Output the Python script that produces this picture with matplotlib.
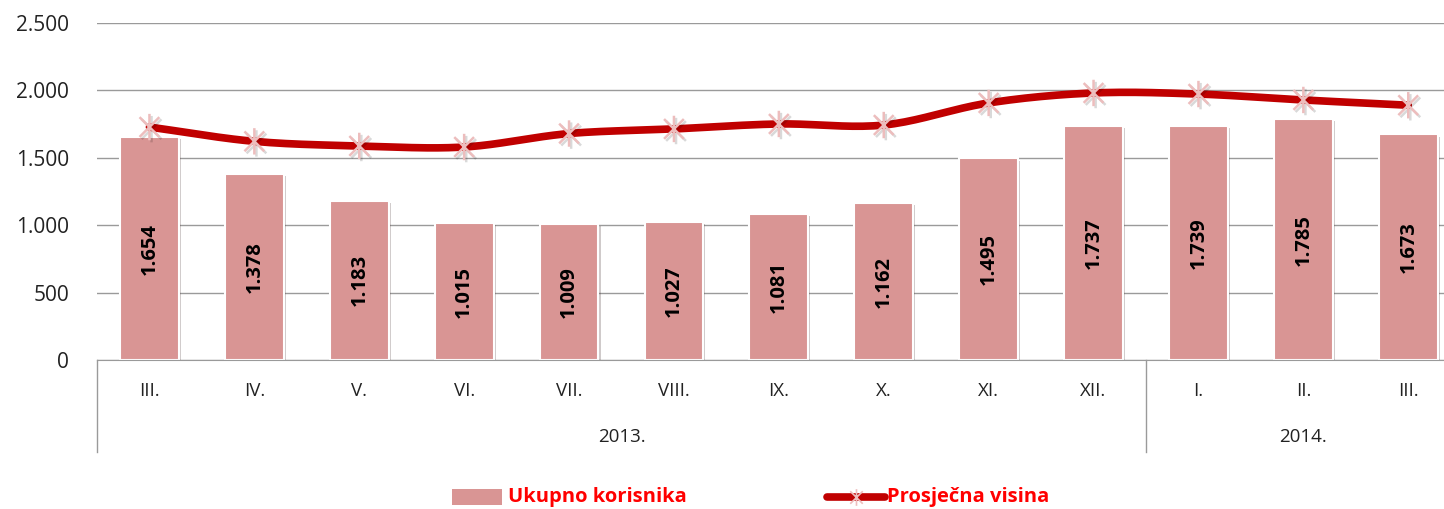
import numpy as np
import matplotlib
matplotlib.use("Agg")
import matplotlib.pyplot as plt
from matplotlib.ticker import FuncFormatter
from matplotlib.path import Path
import matplotlib.patheffects as pe

months = ["III.", "IV.", "V.", "VI.", "VII.", "VIII.", "IX.", "X.", "XI.", "XII.", "I.", "II.", "III."]
years = ["2013.", "2014."]
year_sizes = [10, 3]
korisnika = [1654, 1378, 1183, 1015, 1009, 1027, 1081, 1162, 1495, 1737, 1739, 1785, 1673]
visina = [1728, 1622, 1588, 1580, 1680, 1714, 1751, 1743, 1907, 1981, 1973, 1929, 1890]
bar_label = "Ukupno korisnika"
line_label = "Prosječna visina"

FONT = ["Open Sans", "DejaVu Sans"]
plt.rcParams["font.family"] = FONT

W, H = 1444, 509
fig = plt.figure(figsize=(W / 100, H / 100), dpi=100)
# axes: left at x=97, zero line at y=360, top at y=23; right edge runs past the canvas
x0, x1 = 97, 97 + 104.9 * 13
ax = fig.add_axes([x0 / W, (H - 360) / H, (x1 - x0) / W, (360 - 23) / H])

x = np.arange(len(months))
ax.set_xlim(-0.5, len(months) - 0.5)
ax.set_ylim(0, 2500)

ax.yaxis.grid(True, color="#9a9a9a", linewidth=1)
ax.set_axisbelow(True)
for s in ["top", "right", "left"]:
    ax.spines[s].set_visible(False)
ax.spines["bottom"].set_color("#9a9a9a")
ax.set_yticks(np.arange(0, 2501, 500))
ax.yaxis.set_major_formatter(FuncFormatter(lambda v, p: f"{int(v):,}".replace(",", ".")))
ax.tick_params(axis="y", length=0, pad=20, labelsize=15, labelcolor="#222222")
ax.set_xticks([])

shadow = [pe.SimplePatchShadow(offset=(1.5, -1.5), alpha=0.25), pe.Normal()]
bars = ax.bar(x, korisnika, width=0.56, color="#D99594", edgecolor="white",
              linewidth=1.5, zorder=2, label=bar_label)
for b in bars:
    b.set_path_effects(shadow)
for xi, v in zip(x, korisnika):
    ax.text(xi, v / 2, f"{v:,}".replace(",", "."), rotation=90, ha="center", va="center",
            fontsize=14.5, fontweight="bold", color="black", zorder=4)

# smoothed curve through the monthly points (Catmull-Rom)
def smooth(xs, ys, n=20):
    xs = np.asarray(xs, float); ys = np.asarray(ys, float)
    px = np.concatenate([[2 * xs[0] - xs[1]], xs, [2 * xs[-1] - xs[-2]]])
    py = np.concatenate([[2 * ys[0] - ys[1]], ys, [2 * ys[-1] - ys[-2]]])
    outx, outy = [], []
    t = np.linspace(0, 1, n, endpoint=False)
    for i in range(1, len(px) - 2):
        for arr, out in ((px, outx), (py, outy)):
            p0, p1, p2, p3 = arr[i - 1], arr[i], arr[i + 1], arr[i + 2]
            out.extend(0.5 * ((2 * p1) + (-p0 + p2) * t + (2 * p0 - 5 * p1 + 4 * p2 - p3) * t ** 2
                              + (-p0 + 3 * p1 - 3 * p2 + p3) * t ** 3))
    outx.append(xs[-1]); outy.append(ys[-1])
    return outx, outy

# star marker: vertical stroke plus a diagonal cross
d = 0.75
star = Path([(0, -1), (0, 1), (-d, -d), (d, d), (-d, d), (d, -d)],
            [Path.MOVETO, Path.LINETO, Path.MOVETO, Path.LINETO, Path.MOVETO, Path.LINETO])

sx, sy = smooth(x, visina)
ax.plot(sx, sy, color="#C00000", linewidth=5.5, solid_capstyle="round", zorder=5)
ax.plot(x, visina, linestyle="none", marker=star, markersize=19, markeredgewidth=1.8,
        markeredgecolor="#EDBDBD", markerfacecolor="none", zorder=6,
        path_effects=[pe.SimpleLineShadow(offset=(1.5, -1.5), alpha=0.15), pe.Normal()])

# two-level category axis below the plot
tr = ax.get_xaxis_transform()
def ypix(py):
    return (H - py - (H - 360)) / (360 - 23)
for xi, m in zip(x, months):
    ax.text(xi, ypix(391), m, transform=tr, ha="center", va="center", fontsize=13.5,
            color="#222222", clip_on=False)
start = 0
for yname, n in zip(years, year_sizes):
    ax.text(start + (n - 1) / 2, ypix(437), yname, transform=tr, ha="center", va="center",
            fontsize=13.5, color="#222222", clip_on=False)
    start += n
bounds = np.cumsum([0] + year_sizes) - 0.5
for b in bounds:
    ax.plot([b, b], [0, ypix(452)], transform=tr, color="#9a9a9a", linewidth=1, clip_on=False)

# legend
fy = (H - 497) / H
fig.patches.append(plt.Rectangle((452 / W, fy - 8 / H), 50 / W, 16 / H, transform=fig.transFigure,
                                 facecolor="#D99594", edgecolor="none"))
fig.text(508 / W, fy, bar_label, ha="left", va="center", fontsize=14.5, fontweight="bold", color="#FF0000")
fig.add_artist(plt.Line2D([827 / W, 885 / W], [fy, fy], transform=fig.transFigure, color="#C00000",
                          linewidth=5.5, solid_capstyle="round"))
fig.add_artist(plt.Line2D([856 / W], [fy], transform=fig.transFigure, marker=star, markersize=12,
                          markeredgecolor="#EDBDBD", markerfacecolor="none", markeredgewidth=1.2))
fig.text(887 / W, fy, line_label, ha="left", va="center", fontsize=14.5, fontweight="bold", color="#FF0000")

fig.savefig("out.png", dpi=100)
